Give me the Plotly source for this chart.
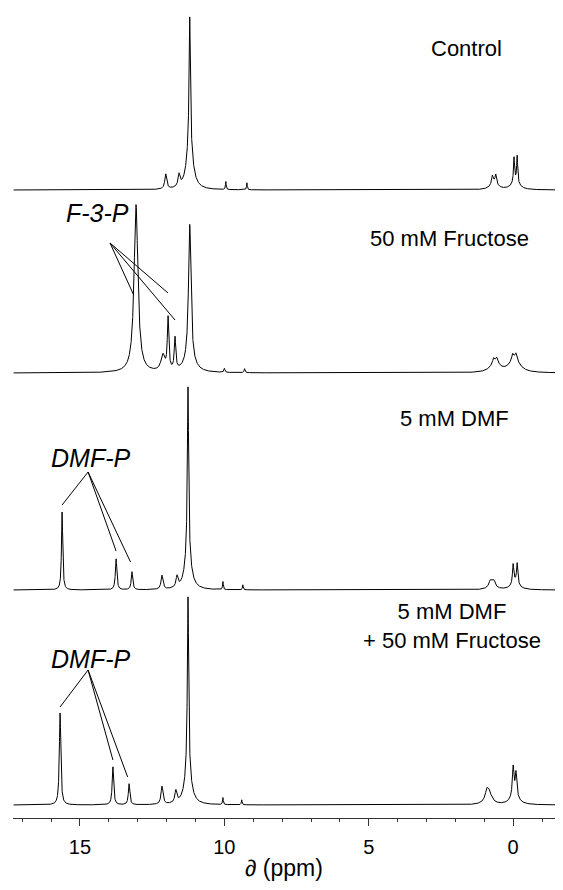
import numpy as np
import plotly.graph_objects as go

# ---- data: peak lists (ppm, height, half-width ppm) ----
labels = ["Control", "50 mM Fructose", "5 mM DMF", "5 mM DMF<br>+ 50 mM Fructose"]

control_peaks = [
    (12.03, 15, 0.04), (11.57, 12, 0.04),
    (11.20, 125, 0.025), (11.20, 48, 0.12),
    (9.95, 8, 0.015), (9.22, 7, 0.015),
    (0.72, 8, 0.03), (0.60, 9, 0.03), (0.66, 7, 0.15),
    (-0.03, 24, 0.02), (-0.14, 26, 0.02), (-0.08, 9, 0.15),
]
fructose_peaks = [
    (13.06, 168, 0.08), (12.13, 16, 0.08),
    (11.95, 52, 0.03), (11.71, 32, 0.03),
    (11.20, 136, 0.05), (11.20, 12, 0.2),
    (10.00, 4, 0.02), (9.30, 4, 0.02),
    (0.62, 11, 0.18), (0.68, 4, 0.03), (0.57, 4, 0.03),
    (-0.05, 15, 0.2), (0.02, 5, 0.03), (-0.10, 5, 0.03),
]
dmf_peaks = [
    (15.62, 78, 0.025), (13.75, 31, 0.03), (13.20, 18, 0.03),
    (12.16, 14, 0.04), (11.64, 11, 0.04),
    (11.26, 165, 0.025), (11.26, 38, 0.12),
    (10.05, 8, 0.015), (9.36, 5, 0.015),
    (0.73, 9, 0.12), (0.80, 3, 0.03), (0.66, 3, 0.03),
    (0.00, 19, 0.025), (-0.14, 20, 0.025), (-0.07, 8, 0.15),
]
dmf_fru_peaks = [
    (15.69, 92, 0.03), (13.86, 38, 0.03), (13.30, 21, 0.03),
    (12.16, 18, 0.04), (11.68, 12, 0.04),
    (11.26, 170, 0.025), (11.26, 38, 0.12),
    (10.05, 7, 0.015), (9.40, 5, 0.015),
    (0.86, 16, 0.12), (0.92, 4, 0.03),
    (0.00, 28, 0.03), (-0.10, 22, 0.03), (-0.05, 11, 0.15),
]
spectra_peaks = [control_peaks, fructose_peaks, dmf_peaks, dmf_fru_peaks]

tick_vals = [15, 10, 5, 0]

# ---- layout constants ----
baselines = [628, 445, 228, 13]
x_range = [17.32, -1.45]

x = np.linspace(17.3, -1.45, 9000)


def spectrum(peaks):
    y = np.zeros_like(x)
    for c, h, g in peaks:
        y += h * g * g / ((x - c) ** 2 + g * g)
    return y


fig = go.Figure()
for peaks, b in zip(spectra_peaks, baselines):
    fig.add_trace(go.Scatter(x=x, y=spectrum(peaks) + b, mode="lines",
                             line=dict(color="black", width=1),
                             showlegend=False, hoverinfo="skip"))

font = "Liberation Sans, Arial, Helvetica, sans-serif"

# sample labels
label_pos = [(1.61, 770), (2.2, 580), (2.02, 400), (2.13, 192)]
for txt, (lx, ly) in zip(labels, label_pos):
    fig.add_annotation(x=lx, y=ly, xref="x", yref="y", text=txt, showarrow=False,
                       font=dict(family=font, size=22, color="black"),
                       xanchor="center", yanchor="middle")

# peak group labels with pointer lines
groups = [
    ("F-3-P", 1, (14.40, 605), (13.96, 130), [(13.14, 78), (11.95, 80), (11.71, 53)]),
    ("DMF-P", 2, (14.65, 360), (14.72, 118), [(15.62, 85), (13.75, 39), (13.25, 28)]),
    ("DMF-P", 3, (14.65, 159), (14.72, 135), [(15.69, 98), (13.86, 45), (13.35, 28)]),
]
for txt, si, (tx, ty), (ox, oh), ends in groups:
    b = baselines[si]
    fig.add_annotation(x=tx, y=ty, xref="x", yref="y", text="<i>" + txt + "</i>",
                       showarrow=False, font=dict(family=font, size=25, color="black"),
                       xanchor="center", yanchor="middle")
    for ex, eh in ends:
        fig.add_shape(type="line", xref="x", yref="y", x0=ox, y0=b + oh, x1=ex, y1=b + eh,
                      line=dict(color="black", width=1))

fig.update_layout(
    width=563, height=890,
    margin=dict(l=13, r=8, t=0, b=72),
    paper_bgcolor="white", plot_bgcolor="white",
    xaxis=dict(range=x_range, showgrid=False, zeroline=False, showline=True,
               linecolor="#333", linewidth=1, ticks="outside", ticklen=7,
               tickcolor="#333", tickmode="array", tickvals=tick_vals,
               ticktext=[str(v) for v in tick_vals],
               tickfont=dict(family=font, size=20, color="black"),
               ticklabelstandoff=4,
               minor=dict(tickmode="linear", tick0=0, dtick=1, ticks="outside",
                          ticklen=3, tickcolor="#333"),
               title=dict(text="\u2202 (ppm)", font=dict(family=font, size=23, color="black"),
                          standoff=2)),
    yaxis=dict(range=[0, 818], visible=False, showgrid=False, zeroline=False),
)

fig.write_html("out.html", config={"displayModeBar": False},
               post_script="document.body.style.margin='0';document.body.style.overflow='hidden';")
